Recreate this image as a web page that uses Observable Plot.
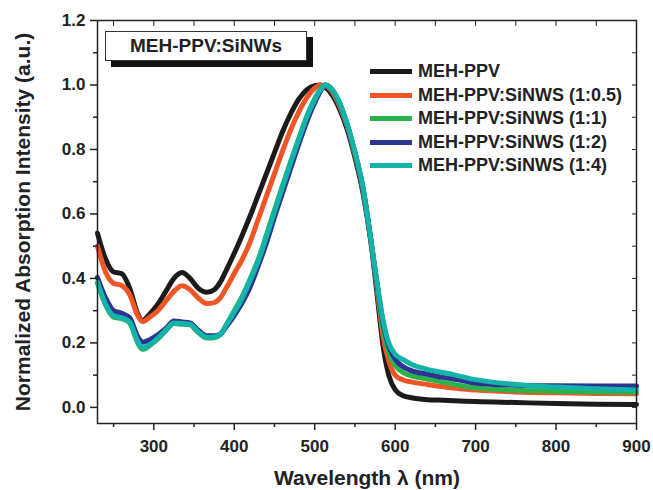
<!DOCTYPE html>
<html><head><meta charset="utf-8">
<script src="https://cdn.jsdelivr.net/npm/d3@7"></script>
<script src="https://cdn.jsdelivr.net/npm/@observablehq/plot@0.6"></script>
<style>
body{margin:0;background:#fff;font-family:"Liberation Sans",Arial,sans-serif;}
#wrap{position:relative;width:653px;height:490px;}
.tbox{position:absolute;left:105px;top:31px;width:200px;height:28px;border:1px solid #333;background:#fff;box-shadow:6px 6px 0 #111;font-weight:bold;font-size:19px;display:flex;align-items:center;justify-content:center;color:#222;}
.legend{position:absolute;left:370px;top:60px;font-weight:bold;font-size:18px;color:#222;}
.legend .row{display:flex;align-items:center;height:23.5px;white-space:nowrap;}
.legend .sw{display:inline-block;width:42px;height:5px;margin-right:6px;}
</style></head>
<body>
<div id="wrap"></div>
<script>
const wavelength = [230,240,250,260,270,280,286,295,305,315,325,335,345,355,366,375,383,390,400,410,420,430,440,450,460,470,480,490,500,507,513,520,530,540,550,560,570,578,585,592,600,610,620,640,660,680,700,750,800,850,900];
const mehPPV   = [0.54,0.46,0.42,0.415,0.37,0.29,0.27,0.29,0.32,0.36,0.40,0.418,0.40,0.37,0.357,0.365,0.39,0.425,0.478,0.535,0.595,0.66,0.725,0.79,0.855,0.91,0.955,0.985,0.998,1.0,0.993,0.975,0.93,0.865,0.775,0.665,0.51,0.34,0.19,0.10,0.055,0.036,0.030,0.024,0.022,0.020,0.018,0.015,0.012,0.010,0.009];
const ratio05  = [0.50,0.42,0.385,0.378,0.35,0.285,0.266,0.28,0.30,0.33,0.36,0.377,0.365,0.34,0.322,0.325,0.341,0.37,0.415,0.46,0.515,0.585,0.655,0.725,0.795,0.86,0.915,0.96,0.99,1.0,0.998,0.985,0.94,0.875,0.785,0.675,0.515,0.36,0.22,0.145,0.10,0.085,0.079,0.071,0.064,0.058,0.054,0.048,0.045,0.043,0.042];
const ratio1   = [0.385,0.318,0.28,0.275,0.262,0.20,0.18,0.192,0.212,0.238,0.26,0.258,0.256,0.233,0.215,0.216,0.226,0.255,0.30,0.345,0.40,0.46,0.535,0.612,0.688,0.762,0.833,0.902,0.957,0.986,1.0,0.99,0.948,0.88,0.79,0.68,0.515,0.37,0.245,0.17,0.13,0.108,0.098,0.088,0.078,0.068,0.060,0.053,0.050,0.048,0.047];
const ratio2   = [0.403,0.34,0.30,0.292,0.278,0.22,0.202,0.21,0.225,0.245,0.268,0.265,0.262,0.24,0.222,0.222,0.228,0.25,0.285,0.325,0.375,0.44,0.51,0.59,0.665,0.74,0.815,0.885,0.945,0.98,1.0,0.99,0.948,0.88,0.79,0.68,0.515,0.375,0.26,0.19,0.15,0.126,0.114,0.103,0.093,0.085,0.075,0.069,0.067,0.066,0.066];
const ratio4   = [0.388,0.32,0.284,0.278,0.265,0.205,0.184,0.195,0.215,0.24,0.262,0.26,0.258,0.235,0.217,0.218,0.228,0.255,0.295,0.34,0.395,0.455,0.53,0.607,0.683,0.758,0.83,0.90,0.955,0.985,1.0,0.99,0.95,0.882,0.792,0.683,0.518,0.38,0.27,0.20,0.165,0.148,0.134,0.118,0.108,0.097,0.086,0.071,0.063,0.058,0.054];

const seriesNames  = ["MEH-PPV","MEH-PPV:SiNWS (1:0.5)","MEH-PPV:SiNWS (1:1)","MEH-PPV:SiNWS (1:2)","MEH-PPV:SiNWS (1:4)"];
const seriesColors = ["#1c1a1a","#f05526","#2bb34b","#2b3590","#14b3a9"];
const seriesValues = [mehPPV, ratio05, ratio1, ratio2, ratio4];

const xMajor = [300,400,500,600,700,800,900];
const xMinor = [250,350,450,550,650,750,850];
const yMajor = [0,0.2,0.4,0.6,0.8,1.0,1.2];
const yMinor = [0.1,0.3,0.5,0.7,0.9,1.1];
const xTitle = "Wavelength \u03bb (nm)";
const yTitle = "Normalized Absorption Intensity (a.u.)";
const boxTitle = "MEH-PPV:SiNWs";

const rows = [];
seriesValues.forEach((vals, i) => wavelength.forEach((w, j) => rows.push({series: seriesNames[i], w, v: vals[j]})));

const font = "Liberation Sans, Arial, sans-serif";
const chart = Plot.plot({
  width: 653, height: 490,
  marginLeft: 97, marginRight: 17, marginTop: 20, marginBottom: 67,
  x: {domain: [230, 900], axis: null},
  y: {domain: [-0.05, 1.2], axis: null},
  color: {domain: seriesNames, range: seriesColors},
  style: {fontFamily: font, fontSize: "17px", fontWeight: "bold", color: "#222", background: "#fff"},
  marks: [
    Plot.lineY(rows, {x: "w", y: "v", z: "series", stroke: "series", strokeWidth: 5, curve: "monotone-x"}),
    Plot.frame({stroke: "#222", strokeWidth: 1.5}),
    Plot.axisX(xMajor, {anchor: "bottom", tickSize: 7, tickPadding: 9, strokeWidth: 1.5, tickFormat: d3.format("d"), label: null, fontSize: 17, fontWeight: "bold"}),
    Plot.axisX(xMinor, {anchor: "bottom", tickSize: 4, strokeWidth: 1.5, tickFormat: () => "", label: null}),
    Plot.axisX(xMajor.concat(xMinor), {anchor: "top", tickSize: 5, dy: 5, strokeWidth: 1, tickFormat: () => "", label: null}),
    Plot.axisY(yMajor, {anchor: "left", tickSize: 7, tickPadding: 5, strokeWidth: 1.5, tickFormat: d3.format(".1f"), label: null, fontSize: 17, fontWeight: "bold"}),
    Plot.axisY(yMinor, {anchor: "left", tickSize: 4, strokeWidth: 1.5, tickFormat: () => "", label: null}),
    Plot.axisY(yMajor.concat(yMinor), {anchor: "right", tickSize: 5, dx: -5, strokeWidth: 1, tickFormat: () => "", label: null}),
    Plot.text([xTitle], {frameAnchor: "bottom", dy: 61, lineAnchor: "bottom", textAnchor: "middle", fontSize: 21, fontWeight: "bold", fill: "#222"}),
    Plot.text([yTitle], {frameAnchor: "left", dx: -74, rotate: -90, textAnchor: "middle", lineAnchor: "middle", fontSize: 21, fontWeight: "bold", fill: "#222"})
  ]
});

const wrap = document.getElementById("wrap");
wrap.appendChild(chart);

const tb = document.createElement("div");
tb.className = "tbox";
tb.textContent = boxTitle;
wrap.appendChild(tb);

const lg = document.createElement("div");
lg.className = "legend";
seriesNames.forEach((n, i) => {
  const r = document.createElement("div");
  r.className = "row";
  const s = document.createElement("span");
  s.className = "sw";
  s.style.background = seriesColors[i];
  const t = document.createElement("span");
  t.textContent = n;
  r.appendChild(s); r.appendChild(t);
  lg.appendChild(r);
});
wrap.appendChild(lg);
</script>
</body></html>
